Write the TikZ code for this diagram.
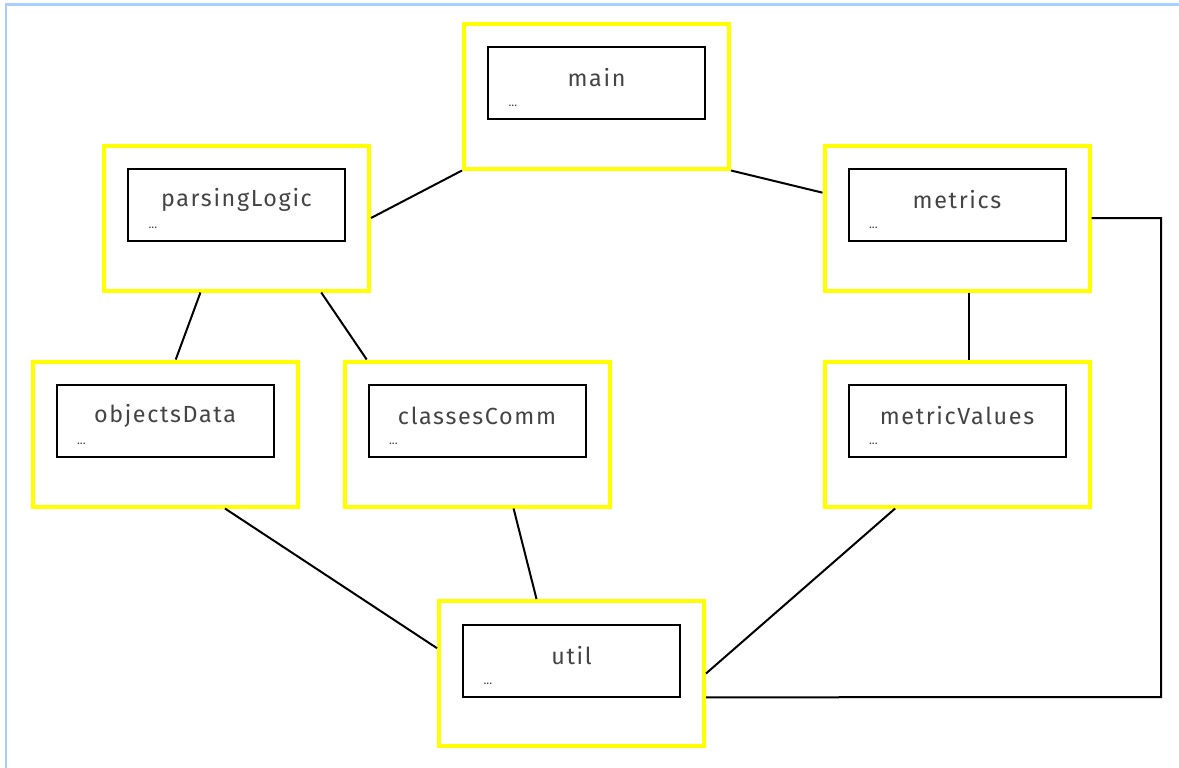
\documentclass[tikz,border=0pt]{standalone}
\usepackage{fontspec}
\setmainfont{Fira Sans}
\usetikzlibrary{calc}
\definecolor{frameblue}{HTML}{A6CFFF}
\definecolor{pkgyellow}{HTML}{FFFF00}
\definecolor{txtgray}{HTML}{444444}
\tikzset{
  outerbox/.style={draw=pkgyellow, line width=3pt, fill=white, rectangle,
    minimum width=198.75pt, minimum height=108.75pt, inner sep=0pt},
  innerbox/.style={draw=black, line width=1.5pt, rectangle,
    minimum width=162.75pt, minimum height=54pt, inner sep=0pt},
  lbl/.style={text=txtgray, font=\fontsize{17.5}{20}\selectfont\addfontfeature{LetterSpace=7}, inner sep=0pt},
  dots/.style={text=txtgray, font=\fontsize{9}{10}\selectfont, inner sep=0pt, anchor=west},
  link/.style={draw=black, line width=1.5pt},
}
% one package: yellow frame, black inner box, name and placeholder
\newcommand\pkgbox[4]{%
  \node[outerbox] (#1) at (#2,#3) {};
  \node[innerbox] (#1-in) at (#2,{#3-13}) {};
  \node[lbl] (#1-t) at ([yshift=-24pt]#1-in.north) {#4};
  \node[dots] (#1-d) at ([xshift=16pt,yshift=-45pt]#1-in.north west) {...};
}
\begin{document}
\begin{tikzpicture}[x=0.75pt,y=-0.75pt]
\useasboundingbox (0,0) rectangle (1179,768);
% frame edges
\draw[frameblue, line width=2.2pt] (6,768) -- (6,4.5) -- (1179,4.5);

\pkgbox{main}{596.5}{96}{main}
\pkgbox{parsingLogic}{236.5}{218}{parsingLogic}
\pkgbox{metrics}{957}{218}{metrics}
\pkgbox{objectsData}{165}{434}{objectsData}
\pkgbox{classesComm}{477}{434}{classesComm}
\pkgbox{metricValues}{957}{434}{metricValues}
\pkgbox{util}{571.5}{673.5}{util}

% dependencies
\draw[link] (main.south west) -- (parsingLogic.east);
\draw[link] (main.south east) -- ($(metrics.north west)!0.33!(metrics.south west)$);
\draw[link] ($(parsingLogic.south west)!0.366!(parsingLogic.south east)$) -- ($(objectsData.north west)!0.54!(objectsData.north east)$);
\draw[link] ($(parsingLogic.south west)!0.815!(parsingLogic.south east)$) -- ($(classesComm.north west)!0.09!(classesComm.north east)$);
\draw[link] ($(metrics.south west)!0.545!(metrics.south east)$) -- ($(metricValues.north west)!0.545!(metricValues.north east)$);
\draw[link] ($(objectsData.south west)!0.723!(objectsData.south east)$) -- ($(util.north west)!0.33!(util.south west)$);
\draw[link] ($(classesComm.south west)!0.636!(classesComm.south east)$) -- ($(util.north west)!0.37!(util.north east)$);
\draw[link] ($(metricValues.south west)!0.27!(metricValues.south east)$) -- (util.east);
\coordinate (bendTop) at (1161,218);
\coordinate (bendBot) at (1161,697);
\draw[link] (metrics.east) -- (bendTop) -- (bendBot) -- ($(util.north east)!0.66!(util.south east)$);
\end{tikzpicture}
\end{document}
